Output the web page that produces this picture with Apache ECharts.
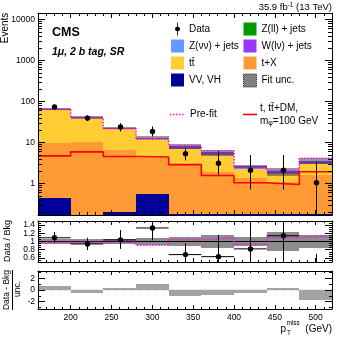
<!DOCTYPE html>
<html>
<head>
<meta charset="utf-8">
<script src="https://cdn.jsdelivr.net/npm/echarts@6/dist/echarts.min.js"></script>
<style>
html, body { margin: 0; padding: 0; background: #fff; }
#chart_cms { width: 349px; height: 338px; }
</style>
</head>
<body>
<div id="chart_cms"></div>
<script>
// binning in pTmiss (GeV)
const binEdges = [160, 200, 240, 280, 320, 360, 400, 440, 480, 520];
const binCenters = [180, 220, 260, 300, 340, 380, 420, 460, 500];

// post-fit backgrounds, events per bin
const vvVH = [0.43, 0, 0.2, 0.56, 0.18, 0.18, 0.18, 0.18, 0.18];
const tX = [9.2, 10.3, 6.3, 3.6, 2.7, 1.7, 1.15, 0.9, 1.4];
const ttbar = [53, 28.6, 14.6, 8.1, 4.1, 3.0, 0.95, 0.6, 1.4];
const zll = [0.1, 0.05, 0.03, 0.02, 0.02, 0.01, 0.01, 0.01, 0.01];
const zvv = [0.3, 0.2, 0.1, 0.05, 0.05, 0.03, 0.02, 0.02, 0.02];
const wlv = [3, 1.8, 1.1, 0.7, 0.9, 0.75, 0.3, 0.25, 0.55];
// relative fit uncertainty
const fitUnc = [0.06, 0.07, 0.065, 0.09, 0.12, 0.16, 0.1, 0.22, 0.16];

const preFit = [64.7, 40.2, 21.9, 11.9, 8.3, 6.2, 2.4, 2.1, 4.1];
const signal = [4.67, 5.85, 4.5, 4.4, 2.86, 1.55, 1.03, 0.94, 1.92];

const dataVal = [73, 39, 23.6, 18.4, 5.3, 3.1, 2.1, 2.1, 1.03];
const dataUp = [82, 46, 29.5, 24.4, 7.5, 6.2, 4.9, 4.9, 3.4];
const dataDown = [65, 33, 18.4, 13.9, 3.6, 1.6, 0.71, 0.71, 0.1];

// Data / Bkg panel
const ratioVal = [1.09, 0.94, 1.04, 1.33, 0.68, 0.63, 0.82, 1.14, 0.29];
const ratioUp = [1.23, 1.09, 1.28, 1.6, 0.96, 1.16, 1.6, 1.6, 0.7];
const ratioDown = [0.97, 0.79, 0.82, 1.03, 0.4, 0.4, 0.4, 0.4, 0.2];
const ratioPre = [0.98, 0.98, 0.98, 0.91, 1.04, 1.08, 0.93, 1.1, 1.14];

// (Data - Bkg) / unc. panel
const pull = [0.7, -0.45, 0.3, 1.08, -1.03, -0.86, -0.45, 0.34, -1.66];

const xTickLabels = [200, 250, 300, 350, 400, 450, 500];
const yTickLabels = [1, 10, 100, 1000, 10000];

const FONT = '"Liberation Sans", Arial, Helvetica, sans-serif';
const yMin = 0.169, yMax = 14300;
const SIGNAL = 't, tt̄+DM, mφ=100 GeV';
const PREFIT_COLOR = '#ee11ee';

function clampRect (p1, p2, cs) {
  const x1 = Math.round(p1[0]), x2 = Math.round(p2[0]);
  const y1 = Math.round(p1[1]), y2 = Math.round(p2[1]);
  return echarts.graphic.clipRectByRect({x: x1, y: y1, width: x2 - x1, height: y2 - y1},
    {x: cs.x, y: cs.y, width: cs.width, height: cs.height});
}

// box from [lo, hi] in x and [bottom, top] in y
function renderBox (params, api) {
  const p1 = api.coord([api.value(0), api.value(3)]);
  const p2 = api.coord([api.value(1), api.value(2)]);
  const rect = clampRect(p1, p2, params.coordSys);
  if (!rect) return;
  return {type: 'rect', shape: rect, style: {fill: api.visual('color')}};
}

function clampY (y, cs) {
  return Math.max(cs.y, Math.min(cs.y + cs.height, y));
}

// data point [x, val, up, down, lo, hi]
function makeDataRenderer (withXBar) {
  return function (params, api) {
    const cs = params.coordSys;
    const c = api.coord([api.value(0), api.value(1)]);
    const yu = clampY(api.coord([api.value(0), api.value(2)])[1], cs);
    const yd = clampY(api.coord([api.value(0), api.value(3)])[1], cs);
    const x = Math.round(c[0]) + 0.5;
    const children = [{
      type: 'line', shape: {x1: x, y1: yu, x2: x, y2: yd}, style: {stroke: '#000', lineWidth: 1}
    }];
    const inside = c[1] >= cs.y && c[1] <= cs.y + cs.height;
    if (inside) {
      if (withXBar) {
        const xl = api.coord([api.value(4), api.value(1)])[0];
        const xr = api.coord([api.value(5), api.value(1)])[0];
        children.push({type: 'line', shape: {x1: xl, y1: c[1], x2: xr, y2: c[1]}, style: {stroke: '#000', lineWidth: 1}});
      }
      children.push({type: 'circle', shape: {cx: x, cy: c[1], r: 2.7}, style: {fill: '#000'}});
    }
    return {type: 'group', children: children};
  };
}

// log minor ticks (2..9 x 10^k) on both sides of the top panel
function renderLogMinor (params, api) {
  const cs = params.coordSys;
  const y = Math.round(api.coord([binEdges[0], api.value(1)])[1]) + 0.5;
  return {type: 'group', children: [
    {type: 'line', shape: {x1: cs.x, y1: y, x2: cs.x + 4, y2: y}, style: {stroke: '#000', lineWidth: 1}},
    {type: 'line', shape: {x1: cs.x + cs.width - 4, y1: y, x2: cs.x + cs.width, y2: y}, style: {stroke: '#000', lineWidth: 1}}
  ]};
}
const logMinor = [];
for (let k = -1; k <= 4; k++) {
  for (let m = 2; m <= 9; m++) {
    const v = m * Math.pow(10, k);
    if (v > yMin && v < yMax) logMinor.push([binEdges[0], v]);
  }
}

function stepData (vals) {
  return binEdges.map((e, i) => [e, vals[Math.min(i, vals.length - 1)]]);
}

// stacked background histograms, bottom to top
const stackParts = [
  {name: 'VV, VH', vals: vvVH, color: '#000099'},
  {name: 't+X', vals: tX, color: '#ff9a35'},
  {name: 'tt̄', vals: ttbar, color: '#ffcc33'},
  {name: 'Z(ll) + jets', vals: zll, color: '#009900'},
  {name: 'Z(νν) + jets', vals: zvv, color: '#6699ff'},
  {name: 'W(lν) + jets', vals: wlv, color: '#9933ff'}
];
const cum = binCenters.map(() => 0);
const stackSeries = stackParts.map(p => {
  const data = p.vals.map((v, i) => {
    const lo = cum[i];
    cum[i] += v;
    return [binEdges[i], binEdges[i + 1], Math.max(lo, yMin), Math.max(cum[i], yMin)];
  });
  return {
    name: p.name, type: 'custom', xAxisIndex: 0, yAxisIndex: 0, z: 2,
    renderItem: renderBox, itemStyle: {color: p.color},
    encode: {x: [0, 1], y: [2, 3]}, data: data
  };
});
const total = cum.slice();

function xAxisDef (grid, pos, showLabels, major, minor) {
  return {
    type: 'value', gridIndex: grid, position: pos, min: 160, max: 520, splitNumber: 7, z: 10,
    axisLine: {show: true, onZero: false, lineStyle: {color: '#000', width: 1}},
    axisTick: {show: true, inside: true, length: major, lineStyle: {color: '#000'}},
    minorTick: {show: true, splitNumber: 5, length: minor, lineStyle: {color: '#000'}},
    splitLine: {show: false},
    axisLabel: {
      show: showLabels, margin: 4, fontSize: 8.5, fontFamily: FONT, color: '#000',
      formatter: v => (xTickLabels.indexOf(v) >= 0 ? String(v) : '')
    }
  };
}

function yAxisDef (grid, pos, extra) {
  return Object.assign({
    gridIndex: grid, position: pos, z: 10,
    axisLine: {show: true, onZero: false, lineStyle: {color: '#000', width: 1}},
    axisTick: {show: true, inside: true, length: 7, lineStyle: {color: '#000'}},
    splitLine: {show: false},
    axisLabel: {show: pos === 'left', margin: 3, fontSize: 8.5, fontFamily: FONT, color: '#000'}
  }, extra);
}

const logLabel = v => {
  const e = Math.log10(v);
  return (Math.abs(e - Math.round(e)) < 1e-6 && yTickLabels.indexOf(Math.round(v)) >= 0) ? String(Math.round(v)) : '';
};
const ratioLabel = v => {
  const r = Math.round(v * 10) / 10;
  return (r < 0.55 || r > 1.45) ? '' : String(r);
};
const pullLabel = v => (Math.abs(v) > 3 ? '' : String(v));

function ratioYAxis (pos) {
  const a = yAxisDef(1, pos, {type: 'value', min: 0.5, max: 1.5, splitNumber: 5,
    minorTick: {show: true, splitNumber: 4, length: 3, lineStyle: {color: '#000'}}});
  a.axisLabel.formatter = ratioLabel;
  return a;
}
function pullYAxis (pos) {
  const a = yAxisDef(2, pos, {type: 'value', min: -3.25, max: 3.25, splitNumber: 3,
    minorTick: {show: true, splitNumber: 2, length: 3, lineStyle: {color: '#000'}}});
  a.axisLabel.formatter = pullLabel;
  return a;
}
function logYAxis (pos) {
  const a = yAxisDef(0, pos, {type: 'log', logBase: 10, min: yMin, max: yMax});
  a.axisLabel.formatter = logLabel;
  return a;
}

const dataIcon = 'path://M2.6,0h0.8v13h-0.8zM5.6,6.5L4.84,8.34L3,9.1L1.16,8.34L0.4,6.5L1.16,4.66L3,3.9L4.84,4.66Z';
const legendText = {fontSize: 10, fontFamily: FONT, color: '#000'};

const option = {
  animation: false,
  backgroundColor: '#fff',
  grid: [
    {left: 38, width: 294, top: 13, height: 202},
    {left: 38, width: 294, top: 221, height: 41},
    {left: 38, width: 294, top: 271, height: 38}
  ],
  xAxis: [
    xAxisDef(0, 'bottom', false, 5, 3),
    xAxisDef(0, 'top', false, 5, 3),
    xAxisDef(1, 'bottom', false, 4, 2),
    xAxisDef(1, 'top', false, 4, 2),
    xAxisDef(2, 'bottom', true, 4, 2),
    xAxisDef(2, 'top', false, 4, 2)
  ],
  yAxis: [
    logYAxis('left'), logYAxis('right'),
    ratioYAxis('left'), ratioYAxis('right'),
    pullYAxis('left'), pullYAxis('right')
  ],
  legend: [
    {
      left: 171, top: 22.5, padding: 0, orient: 'vertical', itemGap: 4, itemWidth: 13, itemHeight: 13,
      selectedMode: false, textStyle: legendText,
      data: [
        {name: 'Data', icon: dataIcon, itemStyle: {color: '#000'}},
        {name: 'Z(νν) + jets', icon: 'rect'},
        {name: 'tt̄', icon: 'rect'},
        {name: 'VV, VH', icon: 'rect'}
      ]
    },
    {
      left: 243, top: 22.5, padding: 0, orient: 'vertical', itemGap: 4, itemWidth: 13, itemHeight: 13,
      selectedMode: false, textStyle: legendText,
      data: [
        {name: 'Z(ll) + jets', icon: 'rect'},
        {name: 'W(lν) + jets', icon: 'rect'},
        {name: 't+X', icon: 'rect'},
        {name: 'Fit unc.', icon: 'rect', itemStyle: {color: '#808080', borderColor: '#222', borderWidth: 1, borderType: 'dotted'}}
      ]
    }
  ],
  graphic: [
    {type: 'text', x: 52, y: 32.5, style: {text: 'CMS', font: 'bold 12.5px ' + FONT, fill: '#000', align: 'left', verticalAlign: 'middle'}},
    {type: 'text', x: 52, y: 52, style: {text: '1μ, 2 b tag, SR', font: 'italic bold 10.5px ' + FONT, fill: '#000', align: 'left', verticalAlign: 'middle'}},
    {type: 'text', x: 332, y: 7, style: {
      text: '35.9 fb{sup|-1} (13 TeV)', font: '9.5px ' + FONT, fill: '#000', align: 'right', verticalAlign: 'middle',
      rich: {sup: {fontSize: 6.5, fontFamily: FONT, verticalAlign: 'top', lineHeight: 11}}
    }},
    // line entries of the legend
    {type: 'line', shape: {x1: 170, y1: 114.5, x2: 185, y2: 114.5}, style: {stroke: PREFIT_COLOR, lineWidth: 1.5, lineDash: [1.5, 1.5]}},
    {type: 'text', x: 190, y: 114.5, style: {text: 'Pre-fit', font: '10px ' + FONT, fill: '#000', align: 'left', verticalAlign: 'middle'}},
    {type: 'line', shape: {x1: 243, y1: 114.5, x2: 257, y2: 114.5}, style: {stroke: '#ff0000', lineWidth: 1.6}},
    {type: 'text', x: 260, y: 114.5, style: {
      text: '{a|t, tt̄+DM,}\n{a|m}{s|φ}{a|=100 GeV}', font: '10px ' + FONT, fill: '#000', align: 'left', verticalAlign: 'middle',
      rich: {
        a: {fontSize: 10, fontFamily: FONT, lineHeight: 12.5},
        s: {fontSize: 7, fontFamily: FONT, lineHeight: 12.5, verticalAlign: 'bottom'}
      }
    }},
    // axis titles
    {type: 'text', x: 5.5, y: 28, rotation: Math.PI / 2, style: {text: 'Events', font: '10px ' + FONT, fill: '#000', align: 'center', verticalAlign: 'middle'}},
    {type: 'text', x: 7.5, y: 241, rotation: Math.PI / 2, style: {text: 'Data / Bkg', font: '9px ' + FONT, fill: '#000', align: 'center', verticalAlign: 'middle'}},
    {type: 'text', x: 7, y: 290, rotation: Math.PI / 2, style: {text: 'Data - Bkg', font: '8.5px ' + FONT, fill: '#000', align: 'center', verticalAlign: 'middle'}},
    {type: 'line', shape: {x1: 12.5, y1: 270, x2: 12.5, y2: 310}, style: {stroke: '#000', lineWidth: 1}},
    {type: 'text', x: 18, y: 289, rotation: Math.PI / 2, style: {text: 'unc.', font: '8.5px ' + FONT, fill: '#000', align: 'center', verticalAlign: 'middle'}},
    {type: 'text', x: 280.5, y: 329.5, style: {text: 'p', font: '10px ' + FONT, fill: '#000', align: 'left', verticalAlign: 'middle'}},
    {type: 'text', x: 286.5, y: 323.5, style: {text: 'miss', font: '6.5px ' + FONT, fill: '#000', align: 'left', verticalAlign: 'middle'}},
    {type: 'text', x: 287, y: 333.5, style: {text: 'T', font: '6.5px ' + FONT, fill: '#000', align: 'left', verticalAlign: 'middle'}},
    {type: 'text', x: 332, y: 329.5, style: {text: '(GeV)', font: '10px ' + FONT, fill: '#000', align: 'right', verticalAlign: 'middle'}}
  ],
  series: stackSeries.concat([
    {
      name: 'Fit unc.', type: 'custom', xAxisIndex: 0, yAxisIndex: 0, z: 3,
      renderItem: renderBox, itemStyle: {color: 'rgba(70,70,70,0.55)'},
      encode: {x: [0, 1], y: [2, 3]},
      data: total.map((t, i) => [binEdges[i], binEdges[i + 1], t * (1 - fitUnc[i]), t * (1 + fitUnc[i])])
    },
    {
      name: 'Pre-fit', type: 'line', step: 'end', xAxisIndex: 0, yAxisIndex: 0, z: 4, symbol: 'none',
      lineStyle: {color: PREFIT_COLOR, width: 1.5, type: [1.5, 1.5]},
      data: stepData(preFit)
    },
    {
      name: SIGNAL, type: 'line', step: 'end', xAxisIndex: 0, yAxisIndex: 0, z: 4, symbol: 'none',
      lineStyle: {color: '#ff0000', width: 1.6},
      data: stepData(signal)
    },
    {
      name: 'Data', type: 'custom', xAxisIndex: 0, yAxisIndex: 0, z: 5,
      renderItem: makeDataRenderer(false), itemStyle: {color: '#000'},
      encode: {x: 0, y: 1},
      data: binCenters.map((c, i) => [c, dataVal[i], dataUp[i], dataDown[i], binEdges[i], binEdges[i + 1]])
    },
    {
      name: 'minor ticks', type: 'custom', xAxisIndex: 0, yAxisIndex: 0, z: 11, silent: true,
      renderItem: renderLogMinor, encode: {x: 0, y: 1}, data: logMinor
    },
    // ratio panel
    {
      name: 'ratio unc', type: 'custom', xAxisIndex: 2, yAxisIndex: 2, z: 2,
      renderItem: renderBox, itemStyle: {color: '#8c8c8c'},
      encode: {x: [0, 1], y: [2, 3]},
      data: fitUnc.map((u, i) => [binEdges[i], binEdges[i + 1], 1 - u, 1 + u])
    },
    {
      name: 'ratio one', type: 'line', xAxisIndex: 2, yAxisIndex: 2, z: 3, symbol: 'none',
      lineStyle: {color: '#000', width: 1}, data: [[160, 1], [520, 1]]
    },
    {
      name: 'ratio prefit', type: 'line', step: 'end', xAxisIndex: 2, yAxisIndex: 2, z: 4, symbol: 'none',
      lineStyle: {color: PREFIT_COLOR, width: 1.5, type: [1.5, 1.5]}, data: stepData(ratioPre)
    },
    {
      name: 'ratio data', type: 'custom', xAxisIndex: 2, yAxisIndex: 2, z: 5,
      renderItem: makeDataRenderer(true), encode: {x: 0, y: 1},
      data: binCenters.map((c, i) => [c, ratioVal[i], ratioUp[i], ratioDown[i], binEdges[i], binEdges[i + 1]])
    },
    // pull panel
    {
      name: 'pull zero', type: 'line', xAxisIndex: 4, yAxisIndex: 4, z: 3, symbol: 'none',
      lineStyle: {color: '#aaaaaa', width: 1, type: 'dotted'}, data: [[160, 0], [520, 0]]
    },
    {
      name: 'pull', type: 'custom', xAxisIndex: 4, yAxisIndex: 4, z: 2,
      renderItem: renderBox, itemStyle: {color: '#a3a3a3'},
      encode: {x: [0, 1], y: [2, 3]},
      data: pull.map((p, i) => [binEdges[i], binEdges[i + 1], Math.min(0, p), Math.max(0, p)])
    }
  ])
};

const myChart = echarts.init(document.getElementById('chart_cms'));
myChart.setOption(option);
</script>
</body>
</html>
